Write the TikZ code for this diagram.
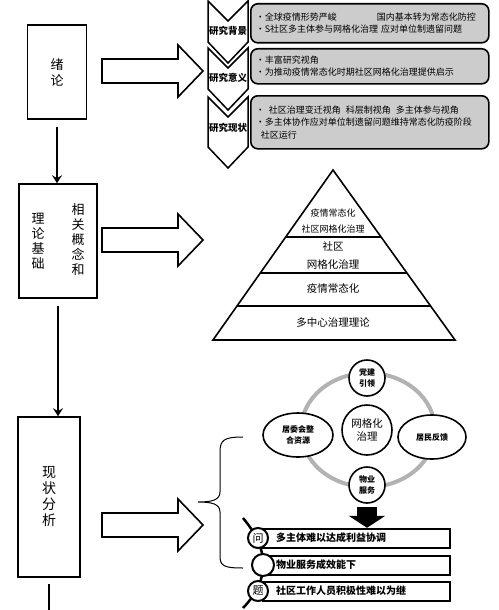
\documentclass[tikz,border=0pt]{standalone}
\usepackage{fontspec}
\setmainfont{Noto Sans CJK SC}
\usepackage{tikz}
\usetikzlibrary{calc,arrows.meta,shapes.geometric}
\def\chevron(#1:#2){\draw[line width=1.5pt, fill=white] (208,#1) -- (228,#1+20) -- (248,#1) -- (248,#2) -- (228,#2+21) -- (208,#2) -- cycle;}
\def\hollowarrow(#1,#2){\draw[line width=1.6pt] (#1,#2) ++(0,-12) -- ++(76,0) -- ++(0,-14) -- ++(25,26) -- ++(-25,26) -- ++(0,-14) -- ++(-76,0) -- cycle;}

\tikzset{
  mainbox/.style={draw, line width=1.6pt, inner sep=0pt, align=center},
  coltext/.style={inner sep=0pt, align=center, font=\fontsize{13}{15}\selectfont},
  graybox/.style={draw, line width=1.6pt, fill=black!20, rounded corners=7pt, anchor=north west, align=left, inner xsep=5pt, inner ysep=0pt, text width=228pt, font=\fontsize{9}{12.5}\selectfont},
  chevlabel/.style={inner sep=0pt, font=\bfseries\fontsize{9.5}{11}\selectfont},
  pylabel/.style={inner sep=0pt, align=center, font=\fontsize{10.5}{18}\selectfont},
  hubnode/.style={circle, draw, line width=1.6pt, fill=white, inner sep=0pt, align=center, font=\bfseries\fontsize{8}{11}\selectfont},
  ovalnode/.style={ellipse, draw, line width=1.6pt, fill=white, minimum height=44pt, inner sep=0pt, align=center, font=\bfseries\fontsize{8}{11}\selectfont},
  probbox/.style={draw, line width=2pt, fill=white, anchor=west, minimum height=19pt, inner ysep=0pt, inner xsep=13pt, text width=161pt, align=left, font=\bfseries\fontsize{10}{12}\selectfont},
  probdot/.style={circle, draw, line width=2pt, fill=white, minimum size=20pt, inner sep=0pt, font=\fontsize{11}{12}\selectfont}
}

\begin{document}
\begin{tikzpicture}[x=1pt, y=-1pt, >={Stealth[length=8pt,width=10pt,inset=3pt]}]
		%%%%% START %%%%%
		\useasboundingbox (0,0) rectangle (498,610);
		
		% left column
		\node[mainbox, minimum width=59pt, minimum height=94pt, font=\fontsize{13}{16}\selectfont] (intro) at (57,72) {绪\\论};
		\node[mainbox, minimum width=78pt, minimum height=114pt] (theory) at (58,241) {};
		\node[coltext] (theoryR) at (78,240) {相\\关\\概\\念\\和};
		\node[coltext] (theoryL) at (38,241.5) {理\\论\\基\\础};
		\node[mainbox, minimum width=62pt, minimum height=160pt, font=\fontsize{14}{16}\selectfont] (status) at (49,497) {现\\状\\分\\析};
		\coordinate (bottomend) at (51,612);
		
		\draw[->, line width=1.6pt, shorten <=7pt] (intro.south) -- (intro.south |- theory.north);
		\draw[->, line width=1.6pt, shorten <=7pt] (theory.south) -- (theory.south |- status.north);
		\draw[line width=1.6pt, shorten <=6pt] (status.south) -- (status.south |- bottomend);
		
		\hollowarrow(102,71)
		\hollowarrow(102,240)
		\hollowarrow(102,525)
		
		% research background
		\node[graybox, minimum height=39pt] (bgA) at (250,3) {•全球疫情形势严峻\hspace{40pt}国内基本转为常态化防控\\•S社区多主体参与网格化治理 应对单位制遗留问题};
		\node[graybox, minimum height=35pt] (bgB) at (250,48) {•丰富研究视角\\•为推动疫情常态化时期社区网格化治理提供启示};
		\node[graybox, minimum height=53pt] (bgC) at (250,95) {•\hspace{4pt}社区治理变迁视角\hspace{5pt}科层制视角\hspace{5pt}多主体参与视角\\•多主体协作应对单位制遗留问题维持常态化防疫阶段\\\hspace{5pt}社区运行};
		
		\chevron(1:42)
		\chevron(48:89)
		\chevron(97:147)
		\node[chevlabel] (tagA) at (228,31) {研究背景};
		\node[chevlabel] (tagB) at (228,78) {研究意义};
		\node[chevlabel] (tagC) at (228,128) {研究现状};
		
		% pyramid
		\coordinate (apex) at (333,170);
		\coordinate (baseL) at (213,340);
		\coordinate (baseR) at (455,340);
		\draw[line width=1.6pt] (apex) -- (baseL) -- (baseR) -- cycle;
		\draw[line width=2pt] ($(apex)!0.394!(baseL)$) -- ($(apex)!0.394!(baseR)$);
		\draw[line width=2pt] ($(apex)!0.606!(baseL)$) -- ($(apex)!0.606!(baseR)$);
		\draw[line width=2pt] ($(apex)!0.8!(baseL)$) -- ($(apex)!0.8!(baseR)$);
		\node[pylabel, font=\fontsize{9}{16}\selectfont] (lvA) at (333,221) {疫情常态化\\社区网格化治理};
		\node[pylabel] (lvB) at (333,255) {社区\\网格化治理};
		\node[pylabel] (lvC) at (333,288) {疫情常态化};
		\node[pylabel] (lvD) at (333,323) {多中心治理理论};
		
		% governance ring
		\coordinate (hub) at (368,430);
		\draw[line width=4pt, black!30] (hub) ellipse [x radius=67pt, y radius=57pt];
		\node[hubnode, minimum size=50pt, font=\fontsize{10.5}{13}\selectfont] (core) at (367,430) {网格化\\治理};
		\node[hubnode, minimum size=36pt] (party) at (367,378) {党建\\引领};
		\node[hubnode, minimum size=36pt] (service) at (367,485) {物业\\服务};
		\node[ovalnode, minimum width=70pt] (committee) at (298,435) {居委会整\\合资源};
		\node[ovalnode, minimum width=68pt] (residents) at (432,437) {居民反馈};
		\draw[line width=20pt, -{Triangle[length=12pt,width=36pt]}] ([yshift=-3pt]service.south) -- ++(0,21);
		
		% brace
		\coordinate (braceTop) at (243,437);
		\coordinate (braceTip) at (198,502);
		\coordinate (braceBot) at (243,568);
		\draw[line width=1pt] (braceTop) .. controls (224,437) and (220,440) .. (220,452) -- (220,492) .. controls (220,500) and (212,502) .. (braceTip) .. controls (212,502) and (220,504) .. (220,512) -- (220,556) .. controls (220,566) and (224,568) .. (braceBot);
		
		% problems
		\coordinate (spineTop) at (243,518);
		\coordinate (spineBot) at (243,608);
		\draw[line width=2.5pt] (spineTop) .. controls (270,550) and (270,580) .. (spineBot);
		\node[probbox] (probA) at (262,538) {多主体难以达成利益协调};
		\node[probbox] (probB) at (262,565) {物业服务成效能下};
		\node[probbox] (probC) at (262,591) {社区工作人员积极性难以为继};
		\node[probdot] (dotA) at (258,538) {问};
		\node[probdot, minimum size=22pt] (dotB) at (263,565) {};
		\node[probdot] (dotC) at (258,591) {题};
		
		%%%%% END %%%%%
	\end{tikzpicture}
\end{document}
